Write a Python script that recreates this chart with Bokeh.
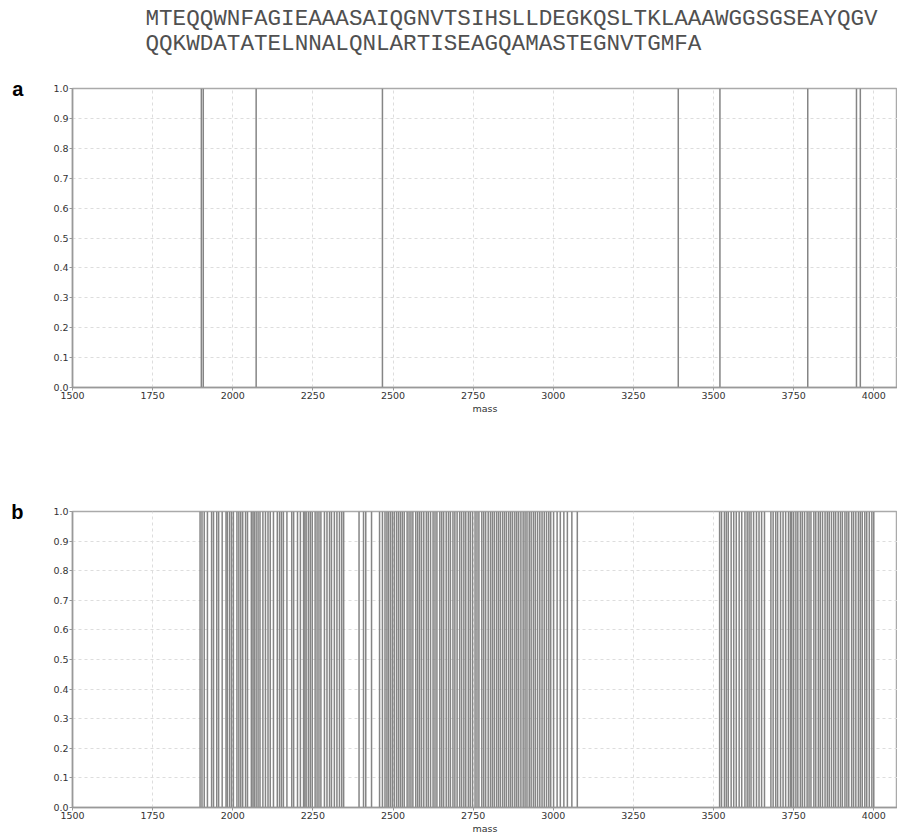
from bokeh.plotting import figure
from bokeh.layouts import column
from bokeh.models import FixedTicker, Range1d, PrintfTickFormatter, Title
from bokeh.embed import file_html
from bokeh.resources import INLINE

sequence_lines = [
    "MTEQQWNFAGIEAAASAIQGNVTSIHSLLDEGKQSLTKLAAAWGGSGSEAYQGV",
    "QQKWDATATELNNALQNLARTISEAGQAMASTEGNVTGMFA",
]

x_ticks = [1500, 1750, 2000, 2250, 2500, 2750, 3000, 3250, 3500, 3750, 4000]
y_ticks = [0.0, 0.1, 0.2, 0.3, 0.4, 0.5, 0.6, 0.7, 0.8, 0.9, 1.0]

peaks_a = [1902, 1908, 2073, 2467, 3390, 3520, 3794, 3946, 3958]

peaks_b = [
    1898, 1904, 1911, 1921, 1934, 1940, 1950, 1956, 1967, 1979, 1983, 1990,
    1996, 2002, 2013, 2019, 2025, 2031, 2040, 2046, 2058, 2063, 2067, 2073,
    2079, 2085, 2094, 2102, 2110, 2117, 2127, 2139, 2146, 2152, 2158, 2169,
    2184, 2190, 2202, 2211, 2221, 2225, 2229, 2236, 2242, 2248, 2257, 2263,
    2269, 2275, 2286, 2294, 2302, 2308, 2317, 2325, 2333, 2340, 2346,
    2394, 2408, 2415, 2433,
    2458, 2467, 2475, 2481, 2486, 2492, 2498, 2504, 2511, 2517, 2523, 2529,
    2535, 2544, 2550, 2556, 2562, 2571, 2577, 2583, 2589, 2596, 2604, 2610,
    2617, 2625, 2631, 2637, 2646, 2652, 2658, 2666, 2673, 2679, 2687, 2693,
    2700, 2708, 2714, 2721, 2727, 2735, 2741, 2748, 2756, 2762, 2768, 2777,
    2783, 2789, 2797, 2804, 2810, 2816, 2823, 2829, 2835, 2842, 2848, 2854,
    2861, 2867, 2873, 2880, 2886, 2892, 2899, 2906, 2912, 2918, 2925, 2931,
    2938, 2944, 2951, 2958, 2965, 2972, 2979, 2986, 2992, 3001, 3012, 3022,
    3033, 3044, 3058, 3075,
    3519, 3525, 3534, 3540, 3546, 3555, 3563, 3571, 3580, 3588, 3598, 3605,
    3611, 3617, 3625, 3634, 3642, 3650, 3659, 3679, 3686, 3694, 3700, 3709,
    3717, 3725, 3734, 3740, 3744, 3750, 3757, 3763, 3771, 3777, 3784, 3792,
    3798, 3804, 3813, 3819, 3827, 3833, 3840, 3848, 3855, 3861, 3868, 3875,
    3881, 3889, 3896, 3902, 3910, 3916, 3922, 3931, 3937, 3944, 3952, 3958,
    3964, 3972, 3978, 3986, 3994, 4000,
]

X_MIN, X_MAX = 1500, 4074
LINE_COLOR = "#858585"
SANS = "DejaVu Sans"


def make_panel(peaks, letter, height, top, bottom, seq=None):
    p = figure(width=897, height=height, title=None,
               x_range=Range1d(X_MIN, X_MAX), y_range=Range1d(0, 1),
               output_backend="svg", toolbar_location=None,
               min_border_left=72, min_border_right=0,
               min_border_top=top, min_border_bottom=bottom,
               background_fill_color="white", border_fill_color="white")
    p.outline_line_color = "#aaaaaa"
    p.outline_line_width = 1.5

    for ax in (p.xaxis, p.yaxis):
        ax.axis_line_color = "#999999"
        ax.axis_line_width = 1.5
        ax.major_tick_line_color = "#999999"
        ax.major_tick_out = 3
        ax.major_tick_in = 0
        ax.minor_tick_line_color = None
        ax.major_label_text_font = SANS
        ax.major_label_text_font_size = "9.5px"
        ax.major_label_text_color = "#333333"
        ax.major_label_standoff = 1
    p.xaxis.ticker = FixedTicker(ticks=x_ticks)
    p.yaxis.ticker = FixedTicker(ticks=y_ticks)
    p.yaxis.formatter = PrintfTickFormatter(format="%.1f")

    # x axis title
    p.xaxis.axis_label = "mass"
    p.xaxis.axis_label_text_font = SANS
    p.xaxis.axis_label_text_font_size = "9.5px"
    p.xaxis.axis_label_text_font_style = "normal"
    p.xaxis.axis_label_text_color = "#333333"
    p.xaxis.axis_label_standoff = 1

    # panel letter as a horizontal y-axis label at the top
    p.yaxis.axis_label = letter
    p.yaxis.axis_label_orientation = "horizontal"
    p.yaxis.axis_label_align = "end"
    p.yaxis.axis_label_text_baseline = "top"
    p.yaxis.axis_label_text_font = "Liberation Sans"
    p.yaxis.axis_label_text_font_size = "20px"
    p.yaxis.axis_label_text_font_style = "bold"
    p.yaxis.axis_label_text_color = "black"
    p.yaxis.axis_label_standoff = 27

    for g in (p.xgrid, p.ygrid):
        g.grid_line_color = "#dddddd"
        g.grid_line_dash = "3 3"
        g.grid_line_width = 1

    p.segment(x0=peaks, y0=0, x1=peaks, y1=1,
              line_color=LINE_COLOR, line_width=1.5)

    if seq:
        # spacer between the sequence text and the plot frame
        p.add_layout(Title(text=" ", text_font_size="10px", standoff=19),
                     "above")
        standoffs = [-7, 0]
        for line, so in reversed(list(zip(seq, standoffs))):
            p.add_layout(Title(text=line, align="left", offset=73,
                               standoff=so, text_font="Liberation Mono",
                               text_font_size="22.6px",
                               text_font_style="normal",
                               text_color="#505050"), "above")
    return p


pa = make_panel(peaks_a, "a", 430, 88, 43, seq=sequence_lines)
pb = make_panel(peaks_b, "b", 406, 81, 26)

layout = column(pa, pb, spacing=0)
open("out.html", "w").write(file_html(layout, INLINE))
